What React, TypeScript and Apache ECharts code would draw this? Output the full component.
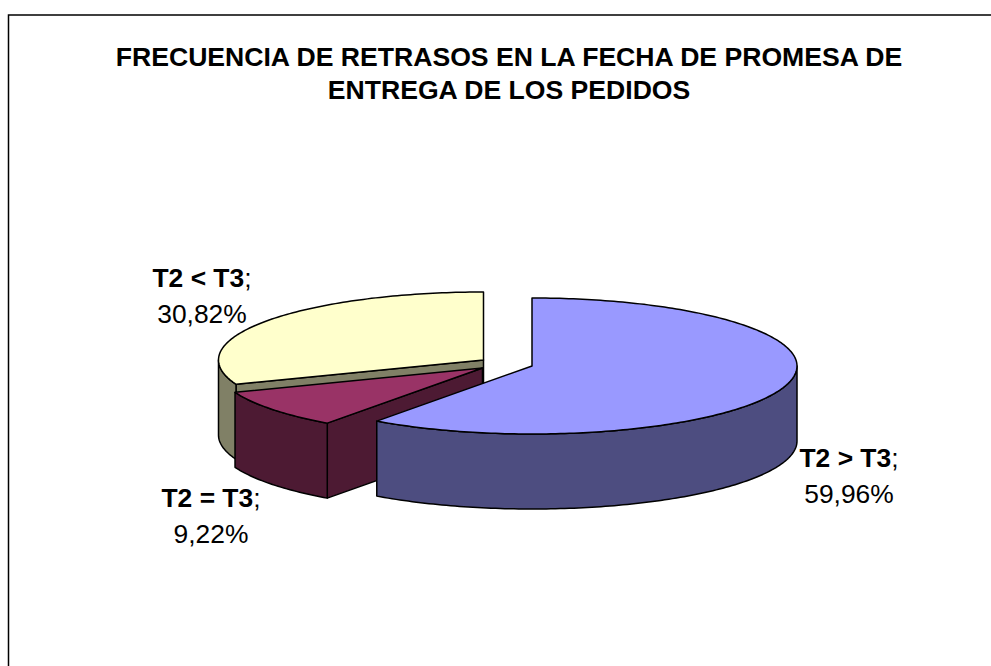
import React, { useEffect, useRef } from "react";
import * as echarts from "echarts";

const titleLines = [
  "FRECUENCIA DE RETRASOS EN LA FECHA DE PROMESA DE",
  "ENTREGA DE LOS PEDIDOS",
];
const categories = ["T2 > T3", "T2 = T3", "T2 < T3"];
const values = [59.96, 9.22, 30.82];

const topColors = ["#9999FF", "#993366", "#FFFFCC"];
const sideColors = ["#4D4D80", "#4D1A33", "#808066"];
const centers = [
  [532, 366],
  [482.5, 368],
  [483.5, 360],
];
const labelAnchors = [
  [849, 476],
  [211, 516],
  [202, 296],
];
const RX = 265;
const RY = 68;
const DEPTH = 75;
const FONT = '"Liberation Sans", Arial, sans-serif';
const LABEL_SIZE = 26.4;
const total = values.reduce((a, b) => a + b, 0);

const rimPoint = (c: number[], deg: number, dy = 0) => {
  const a = (deg * Math.PI) / 180;
  return [c[0] + RX * Math.sin(a), c[1] - RY * Math.cos(a) + dy];
};
const arcPoints = (c: number[], from: number, to: number, dy = 0) => {
  const pts: number[][] = [];
  const n = Math.max(2, Math.ceil(Math.abs(to - from)));
  for (let i = 0; i <= n; i++) pts.push(rimPoint(c, from + ((to - from) * i) / n, dy));
  return pts;
};

const renderSlice = (_params: any, api: any) => {
  const idx = api.value(0) as number;
  const value = api.value(1) as number;
  let start = 0;
  for (let i = 0; i < idx; i++) start += (values[i] / total) * 360;
  const end = start + (value / total) * 360;
  const c = centers[idx];
  const edge = { stroke: "#000", lineWidth: 1.5, lineJoin: "round" };
  const children: any[] = [];
  const poly = (points: number[][], fill: string) =>
    children.push({ type: "polygon", shape: { points }, style: { fill, ...edge } });

  // Radial face that turns towards the viewer (the start edge of a slice on the left half).
  if (start > 90 && start < 270) {
    const p = rimPoint(c, start);
    poly([c, p, [p[0], p[1] + DEPTH], [c[0], c[1] + DEPTH]], sideColors[idx]);
  }
  // Outer wall, only the front half of the ellipse.
  const f0 = Math.max(start, 90);
  const f1 = Math.min(end, 270);
  if (f1 > f0) {
    poly(
      [...arcPoints(c, f0, f1), ...arcPoints(c, f1, f0, DEPTH)],
      sideColors[idx],
    );
  }
  // Top face.
  poly([c, ...arcPoints(c, start, end)], topColors[idx]);
  return { type: "group", children };
};

const renderLabel = (_params: any, api: any) => {
  const idx = api.value(0) as number;
  const value = api.value(1) as number;
  const pct = value.toFixed(2).replace(".", ",") + "%";
  return {
    type: "text",
    x: labelAnchors[idx][0],
    y: labelAnchors[idx][1],
    style: {
      text: `{b|${categories[idx]}}{n|;}\n{n|${pct}}`,
      align: "center",
      verticalAlign: "middle",
      fill: "#000",
      font: `${LABEL_SIZE}px ${FONT}`,
      rich: {
        b: { fontFamily: FONT, fontSize: LABEL_SIZE, fontWeight: "bold", lineHeight: 36, fill: "#000" },
        n: { fontFamily: FONT, fontSize: LABEL_SIZE, lineHeight: 36, fill: "#000" },
      },
    },
  };
};

export default function App() {
  const ref = useRef<HTMLDivElement>(null);
  useEffect(() => {
    document.body.style.margin = "0";
    const chart = echarts.init(ref.current!, null, { renderer: "svg" });
    // The yellow slice is painted first, the blue one last, as in the 3D view.
    const data = values.map((v, i) => [i, v]).reverse();
    chart.setOption({
      animation: false,
      backgroundColor: "#fff",
      title: {
        text: titleLines.join("\n"),
        left: 504,
        top: 35,
        textAlign: "center",
        textStyle: {
          fontFamily: FONT,
          fontSize: 26.6,
          fontWeight: "bold",
          color: "#000",
          lineHeight: 33,
        },
      },
      graphic: [
        {
          type: "polyline",
          shape: { points: [[8.5, 666], [8.5, 15], [991, 15]] },
          style: { fill: "none", stroke: "#000", lineWidth: 1.5 },
          silent: true,
        },
      ],
      series: [
        { type: "custom", coordinateSystem: "none", renderItem: renderSlice, data, silent: true },
        { type: "custom", coordinateSystem: "none", renderItem: renderLabel, data, silent: true },
      ],
    });
    return () => chart.dispose();
  }, []);
  return (
    <div
      ref={ref}
      style={{ position: "absolute", left: 0, top: 0, width: 991, height: 666, background: "#fff" }}
    />
  );
}
